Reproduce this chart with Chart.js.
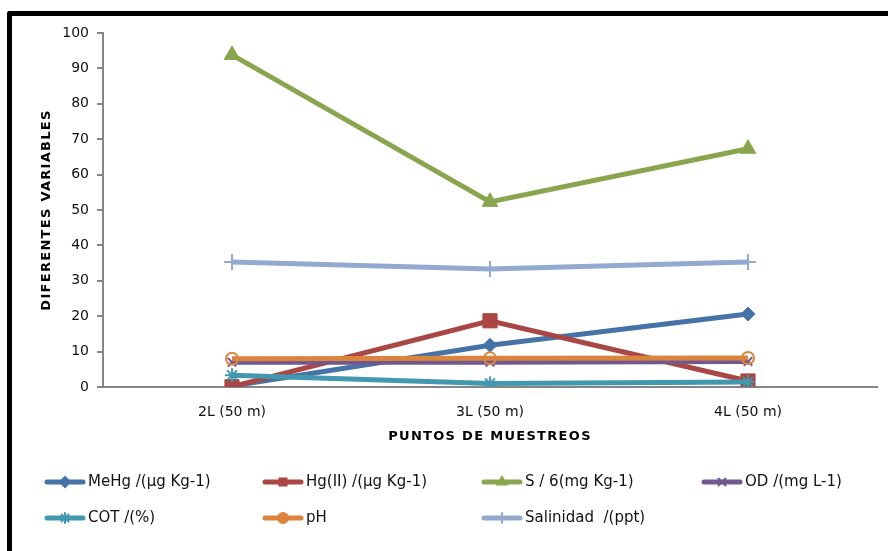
<!DOCTYPE html>
<html>
<head>
<meta charset="utf-8">
<script src="https://cdn.jsdelivr.net/npm/chart.js@4/dist/chart.umd.min.js"></script>
<style>
  html, body { margin: 0; padding: 0; background: #fff; }
  #wrap { position: relative; width: 888px; height: 551px; overflow: hidden; }
  #frame {
    position: absolute; left: 7px; top: 11px; width: 900px; height: 560px;
    border-left: 5px solid #000; border-top: 5px solid #000;
    border-top-left-radius: 3px; box-sizing: border-box;
  }
  canvas { position: absolute; left: 0; top: 0; }
</style>
</head>
<body>
<div id="wrap">
  <div id="frame"></div>
  <canvas id="chart" width="888" height="551"></canvas>
</div>
<script>
// Sampling points along the transect
const categories = ['2L (50 m)', '3L (50 m)', '4L (50 m)'];

// Measured variables per sampling point
const meHg      = [0.3, 11.8, 20.6];
const hgII      = [0.1, 18.7, 1.7];
const sulfur6   = [93.8, 52.3, 67.3];
const oxygen    = [7.0, 7.0, 7.2];
const cot       = [3.3, 1.0, 1.4];
const ph        = [8.0, 8.1, 8.2];
const salinity  = [35.3, 33.3, 35.3];

const seriesNames = [
  'MeHg /(µg Kg-1)', 'Hg(II) /(µg Kg-1)', 'S / 6(mg Kg-1)', 'OD /(mg L-1)',
  'COT /(%)', 'pH', 'Salinidad  /(ppt)'
];

// Y axis tick values
const yTicks = [0, 10, 20, 30, 40, 50, 60, 70, 80, 90, 100];

const seriesValues = [meHg, hgII, sulfur6, oxygen, cot, ph, salinity];
const styles = [
  { color: '#4572A7', point: 'rectRot',  r: 7,  fill: true },
  { color: '#AA4643', point: 'rect',     r: 10, fill: true },
  { color: '#89A54E', point: 'triangle', r: 9,  fill: true },
  { color: '#71588F', point: 'crossRot', r: 6,  fill: false },
  { color: '#4198AF', point: 'star',     r: 7,  fill: false },
  { color: '#DB843D', point: 'circle',   r: 6,  fill: false },
  { color: '#93A9CF', point: 'cross',    r: 8,  fill: false }
];

const datasets = seriesValues.map((vals, i) => ({
  label: seriesNames[i],
  data: vals,
  borderColor: styles[i].color,
  backgroundColor: styles[i].color,
  borderWidth: 5,
  tension: 0,
  pointStyle: styles[i].point,
  pointRadius: styles[i].r,
  pointHoverRadius: styles[i].r,
  pointBorderWidth: styles[i].fill ? 1 : 2,
  pointBackgroundColor: styles[i].fill ? styles[i].color : 'rgba(0,0,0,0)',
  pointBorderColor: styles[i].color,
  order: seriesValues.length - i
}));

// Axis titles are drawn with the grid layer (before the datasets), tick labels
// afterwards (ticks.z = 1), so the spacing only applies to the titles.
const titleSpacing = {
  id: 'titleSpacing',
  beforeDraw(chart) { chart.ctx.letterSpacing = '1.3px'; },
  beforeDatasetsDraw(chart) { chart.ctx.letterSpacing = '0px'; }
};

// Legend drawn as a fixed grid of four columns under the axis title
const gridLegend = {
  id: 'gridLegend',
  afterDraw(chart) {
    const ctx = chart.ctx;
    const colX = [45, 263, 482, 702];
    const rowY = [482, 518];
    ctx.save();
    ctx.letterSpacing = '0px';
    chart.data.datasets.forEach((ds, i) => {
      const x = colX[i % 4];
      const y = rowY[Math.floor(i / 4)];
      ctx.strokeStyle = ds.borderColor;
      ctx.fillStyle = ds.borderColor;
      ctx.lineWidth = 5;
      ctx.lineCap = 'round';
      ctx.beginPath();
      ctx.moveTo(x + 2, y);
      ctx.lineTo(x + 38, y);
      ctx.stroke();
      ctx.lineWidth = 2;
      Chart.helpers.drawPoint(ctx, {
        pointStyle: ds.pointStyle,
        radius: 5,
        rotation: 0,
        borderWidth: 2
      }, x + 20, y);
      ctx.fillStyle = '#111';
      ctx.font = '15px "DejaVu Sans", Verdana, sans-serif';
      ctx.textBaseline = 'middle';
      ctx.textAlign = 'left';
      ctx.fillText(ds.label, x + 43, y);
    });
    ctx.restore();
  }
};

new Chart(document.getElementById('chart'), {
  type: 'line',
  data: { labels: categories, datasets },
  options: {
    responsive: false,
    animation: false,
    events: [],
    layout: { padding: { left: 0, top: 33, right: 11, bottom: 104 } },
    plugins: { legend: { display: false }, tooltip: { enabled: false } },
    scales: {
      x: {
        type: 'category',
        offset: true,
        grid: { display: false },
        border: { display: true, color: '#868686', width: 2 },
        ticks: {
          z: 1,
          color: '#111',
          padding: 9,
          font: { family: '"DejaVu Sans", Verdana, sans-serif', size: 14 }
        },
        title: {
          display: true,
          text: 'PUNTOS DE MUESTREOS',
          color: '#000',
          padding: { top: 0, bottom: 3 },
          font: { family: '"DejaVu Sans", Verdana, sans-serif', size: 13, weight: 'bold' }
        },
        afterFit(scale) { scale.height = 60; }
      },
      y: {
        min: 0,
        max: 100,
        afterBuildTicks(scale) { scale.ticks = yTicks.map(v => ({ value: v })); },
        grid: { drawOnChartArea: false, drawTicks: true, tickLength: 6, color: '#868686', lineWidth: 2 },
        border: { display: true, color: '#868686', width: 2 },
        ticks: {
          z: 1,
          color: '#111',
          padding: 8,
          font: { family: '"DejaVu Sans", Verdana, sans-serif', size: 14 }
        },
        title: {
          display: true,
          text: 'DIFERENTES VARIABLES',
          color: '#000',
          padding: { top: 39, bottom: 0 },
          font: { family: '"DejaVu Sans", Verdana, sans-serif', size: 13, weight: 'bold' }
        },
        afterFit(scale) { scale.width = 103; }
      }
    }
  },
  plugins: [titleSpacing, gridLegend]
});
</script>
</body>
</html>
